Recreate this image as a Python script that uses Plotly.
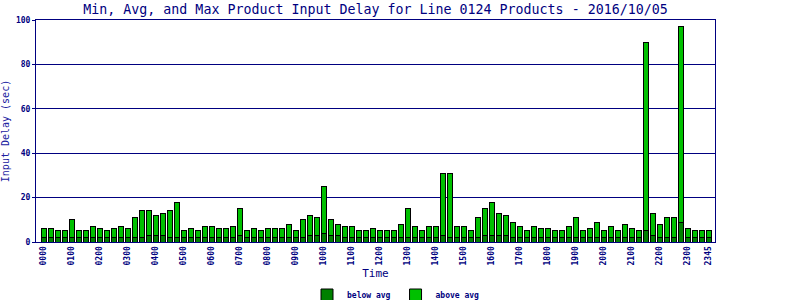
import plotly.graph_objects as go

# 15-minute slots 0000 .. 2345
slot_labels = [f"{h:02d}{m:02d}" for h in range(24) for m in (0, 15, 30, 45)]

max_delay = [6, 6, 5, 5, 10, 5, 5, 7, 6, 5, 6, 7, 6, 11, 14, 14, 12, 13, 14, 18, 5, 6, 5, 7,
             7, 6, 6, 7, 15, 5, 6, 5, 6, 6, 6, 8, 5, 10, 12, 11, 25, 10, 8, 7, 7, 5, 5, 6,
             5, 5, 5, 8, 15, 7, 5, 7, 7, 31, 31, 7, 7, 5, 11, 15, 18, 13, 12, 9, 7, 5, 7, 6,
             6, 5, 5, 7, 11, 5, 6, 9, 5, 7, 5, 8, 6, 5, 90, 13, 8, 11, 11, 97, 6, 5, 5, 5]

avg_delay = [2, 2, 2, 2, 2, 2, 2, 2, 2, 2, 2, 2, 2, 2, 2, 3, 3, 3, 2, 2, 2, 2, 2, 2,
             2, 2, 2, 2, 3, 2, 2, 2, 2, 2, 2, 2, 2, 2, 3, 3, 4, 3, 3, 2, 2, 2, 2, 2,
             2, 2, 2, 2, 2, 2, 2, 2, 2, 3, 2, 2, 2, 2, 2, 3, 3, 3, 3, 2, 2, 2, 2, 2,
             2, 2, 2, 2, 2, 2, 2, 2, 2, 2, 2, 2, 2, 2, 5, 3, 2, 2, 2, 9, 2, 2, 2, 2]

tick_idx = list(range(0, 96, 4)) + [95]
tick_text = [slot_labels[i] for i in tick_idx]

x_pos = list(range(len(slot_labels)))
above = [m - a for m, a in zip(max_delay, avg_delay)]

NAVY = "#000080"
MONO = "DejaVu Sans Mono"

fig = go.Figure()
fig.add_trace(go.Bar(
    x=x_pos, y=avg_delay, name="below avg",
    marker=dict(color="#008000", line=dict(color="black", width=1)),
    hovertext=slot_labels,
))
fig.add_trace(go.Bar(
    x=x_pos, y=above, name="above avg",
    marker=dict(color="#00C000", line=dict(color="black", width=1)),
    hovertext=slot_labels,
))

fig.update_layout(
    width=800, height=300,
    margin=dict(l=36, r=85, t=20, b=58, autoexpand=False),
    paper_bgcolor="white", plot_bgcolor="white",
    barmode="stack", bargap=0.3,
    font=dict(family=MONO, color=NAVY, size=8),
    title=dict(
        text="Min, Avg, and Max Product Input Delay for Line 0124 Products - 2016/10/05",
        font=dict(family=MONO, size=13.3, color=NAVY),
        x=0.5, xref="paper", xanchor="center",
        y=1 - 9 / 300, yref="container", yanchor="middle",
    ),
    showlegend=True,
    legend=dict(
        orientation="h", traceorder="normal",
        x=0.495, xanchor="center", xref="container",
        y=1 - 295 / 300, yanchor="middle", yref="container",
        font=dict(family=MONO, size=8, color=NAVY, weight="bold"),
        itemwidth=30, bgcolor="rgba(0,0,0,0)",
        tracegroupgap=0,
    ),
)

fig.update_xaxes(
    automargin=False,
    range=[-1.1, 95.9],
    tickmode="array", tickvals=tick_idx, ticktext=tick_text,
    tickangle=-90,
    tickfont=dict(family=MONO, size=8, color=NAVY, weight="bold"),
    showgrid=False, zeroline=False,
    showline=True, linecolor=NAVY, linewidth=1, mirror=True,
    ticks="",
    title=dict(text="Time", font=dict(family=MONO, size=11, color=NAVY), standoff=6),
)
fig.update_yaxes(
    automargin=False,
    range=[0, 100],
    tickvals=[0, 20, 40, 60, 80, 100],
    tickfont=dict(family=MONO, size=8, color=NAVY, weight="bold"),
    showgrid=True, gridcolor=NAVY, gridwidth=1,
    zeroline=False,
    showline=True, linecolor=NAVY, linewidth=1, mirror=True,
    ticks="outside", ticklen=3, tickcolor=NAVY,
    title=dict(text="Input Delay (sec)", font=dict(family=MONO, size=10, color="#2020A0"), standoff=4),
)

fig.write_html("out.html")
